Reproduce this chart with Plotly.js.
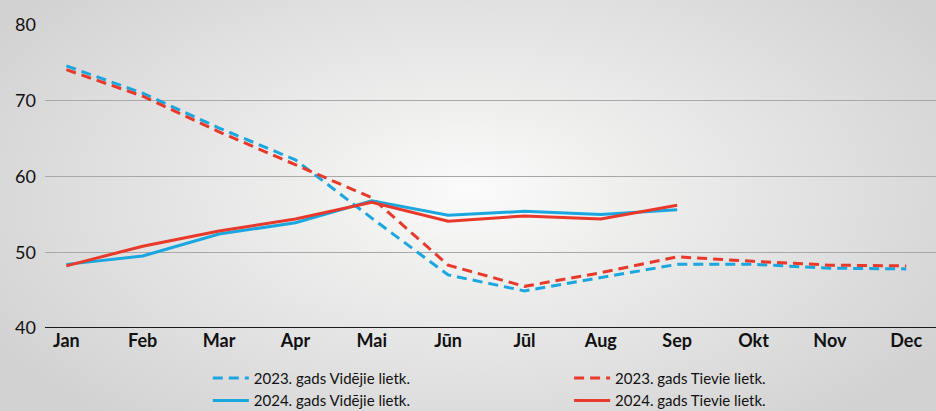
<!DOCTYPE html>
<html>
<head>
<meta charset="utf-8">
<script src="https://cdn.plot.ly/plotly-3.0.1.min.js"></script>
<style>
  html, body { margin: 0; padding: 0; }
  #chart {
    width: 936px; height: 411px;
    background: radial-gradient(ellipse 560px 300px at 470px 190px, #fbfbfb 0%, #f0f0ef 25%, #e4e4e4 55%, #d2d2d2 100%);
  }
</style>
</head>
<body>
<div id="chart"></div>
<script>
// Months and series values
const months = ['Jan', 'Feb', 'Mar', 'Apr', 'Mai', 'Jūn', 'Jūl', 'Aug', 'Sep', 'Okt', 'Nov', 'Dec'];
const vid2023 = [74.6, 71.0, 66.4, 62.2, 54.5, 47.0, 44.9, 46.7, 48.4, 48.4, 47.9, 47.8];
const tie2023 = [74.1, 70.6, 65.9, 61.5, 57.2, 48.3, 45.5, 47.3, 49.4, 48.8, 48.3, 48.2];
const vid2024 = [48.4, 49.5, 52.4, 53.9, 56.8, 54.9, 55.4, 55.0, 55.6];
const tie2024 = [48.2, 50.8, 52.8, 54.4, 56.6, 54.1, 54.8, 54.4, 56.2];
const yTicks = [40, 50, 60, 70, 80];

const blue = '#1aa7df';
const red = '#e8392b';
const font = 'Lato, "Open Sans", sans-serif';

const traces = [
    { x: months, y: vid2023, name: '2023. gads Vidējie lietk.', mode: 'lines', type: 'scatter',
      legend: 'legend', line: { color: blue, width: 3, dash: '10px,6px' } },
    { x: months, y: tie2023, name: '2023. gads Tievie lietk.', mode: 'lines', type: 'scatter',
      legend: 'legend2', line: { color: red, width: 3, dash: '10px,6px' } },
    { x: months.slice(0, vid2024.length), y: vid2024, name: '2024. gads Vidējie lietk.', mode: 'lines', type: 'scatter',
      legend: 'legend', line: { color: blue, width: 3 } },
    { x: months.slice(0, tie2024.length), y: tie2024, name: '2024. gads Tievie lietk.', mode: 'lines', type: 'scatter',
      legend: 'legend2', line: { color: red, width: 3 } }
];

const legendBase = {
    xref: 'container', yref: 'container',
    xanchor: 'left', yanchor: 'top',
    y: 0.12,
    tracegroupgap: 0,
    itemwidth: 36,
    font: { family: font, size: 15, color: '#111' },
    bgcolor: 'rgba(0,0,0,0)'
};

const layout = {
    width: 936,
    height: 411,
    margin: { l: 45, r: 0, t: 25, b: 83, autoexpand: false },
    paper_bgcolor: 'rgba(0,0,0,0)',
    plot_bgcolor: 'rgba(0,0,0,0)',
    font: { family: font, size: 18, color: '#111' },
    showlegend: true,
    legend: Object.assign({}, legendBase, { x: 0.222 }),
    legend2: Object.assign({}, legendBase, { x: 0.608 }),
    xaxis: {
        type: 'category',
        categoryarray: months,
        range: [-0.28, 11.39],
        showgrid: false,
        zeroline: false,
        showline: false,
        ticks: '',
        tickangle: 0,
        tickfont: { family: font, size: 18, color: '#111', weight: 'bold' }
    },
    yaxis: {
        range: [40, 80],
        tickvals: yTicks,
        showgrid: true,
        gridcolor: '#a8a8a8',
        gridwidth: 1,
        zeroline: false,
        showline: false,
        ticks: '',
        ticklabelstandoff: 8,
        tickfont: { family: font, size: 18, color: '#111' }
    },
    shapes: [
        { type: 'line', xref: 'paper', yref: 'y', x0: 0, x1: 1, y0: 40, y1: 40,
          line: { color: '#1a1a1a', width: 2 } }
    ]
};

Plotly.newPlot('chart', traces, layout, { displayModeBar: false, staticPlot: true });
</script>
</body>
</html>
